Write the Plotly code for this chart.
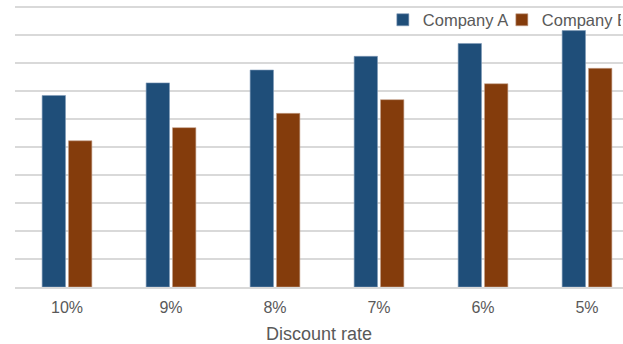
import plotly.graph_objects as go

categories = ["10%", "9%", "8%", "7%", "6%", "5%"]
company_a = [6.85, 7.3, 7.76, 8.25, 8.71, 9.17]
company_b = [5.23, 5.7, 6.21, 6.7, 7.27, 7.82]
series_names = ["Company A", "Company B"]
x_title = "Discount rate"

font_family = "Liberation Sans, Arial, sans-serif"
text_color = "#595959"

fig = go.Figure()
fig.add_trace(go.Bar(x=categories, y=company_a, name=series_names[0],
                     marker=dict(color="#1F4E79", line=dict(color="#7f9bb8", width=0.6))))
fig.add_trace(go.Bar(x=categories, y=company_b, name=series_names[1],
                     marker=dict(color="#843C0C", line=dict(color="#c4a08a", width=0.6))))

fig.update_layout(
    width=623, height=344,
    margin=dict(l=15, r=0, t=5.6, b=57, autoexpand=False),
    paper_bgcolor="white", plot_bgcolor="white",
    barmode="group", bargap=0.493, bargroupgap=0.114,
    font=dict(family=font_family, color=text_color, size=16),
    showlegend=True,
    legend=dict(orientation="h", x=0.605, y=0.95, xanchor="left", yanchor="middle",
                font=dict(size=16.5, color=text_color), bgcolor="rgba(0,0,0,0)",
                entrywidth=74, entrywidthmode="pixels",
                traceorder="normal"),
)
fig.update_xaxes(
    range=[-0.5, 5.346],
    showgrid=False, showline=True, linecolor="#D9D9D9", linewidth=1.5,
    ticks="outside", ticklen=5, tickcolor="rgba(0,0,0,0)",
    tickfont=dict(size=16, color=text_color),
    title=dict(text=x_title, font=dict(size=18, color=text_color), standoff=13),
)
fig.update_yaxes(
    range=[0, 10.05], dtick=1, showticklabels=False,
    showgrid=True, gridcolor="#D9D9D9", gridwidth=1.5,
    zeroline=False, showline=False,
)

fig.write_html("out.html")
